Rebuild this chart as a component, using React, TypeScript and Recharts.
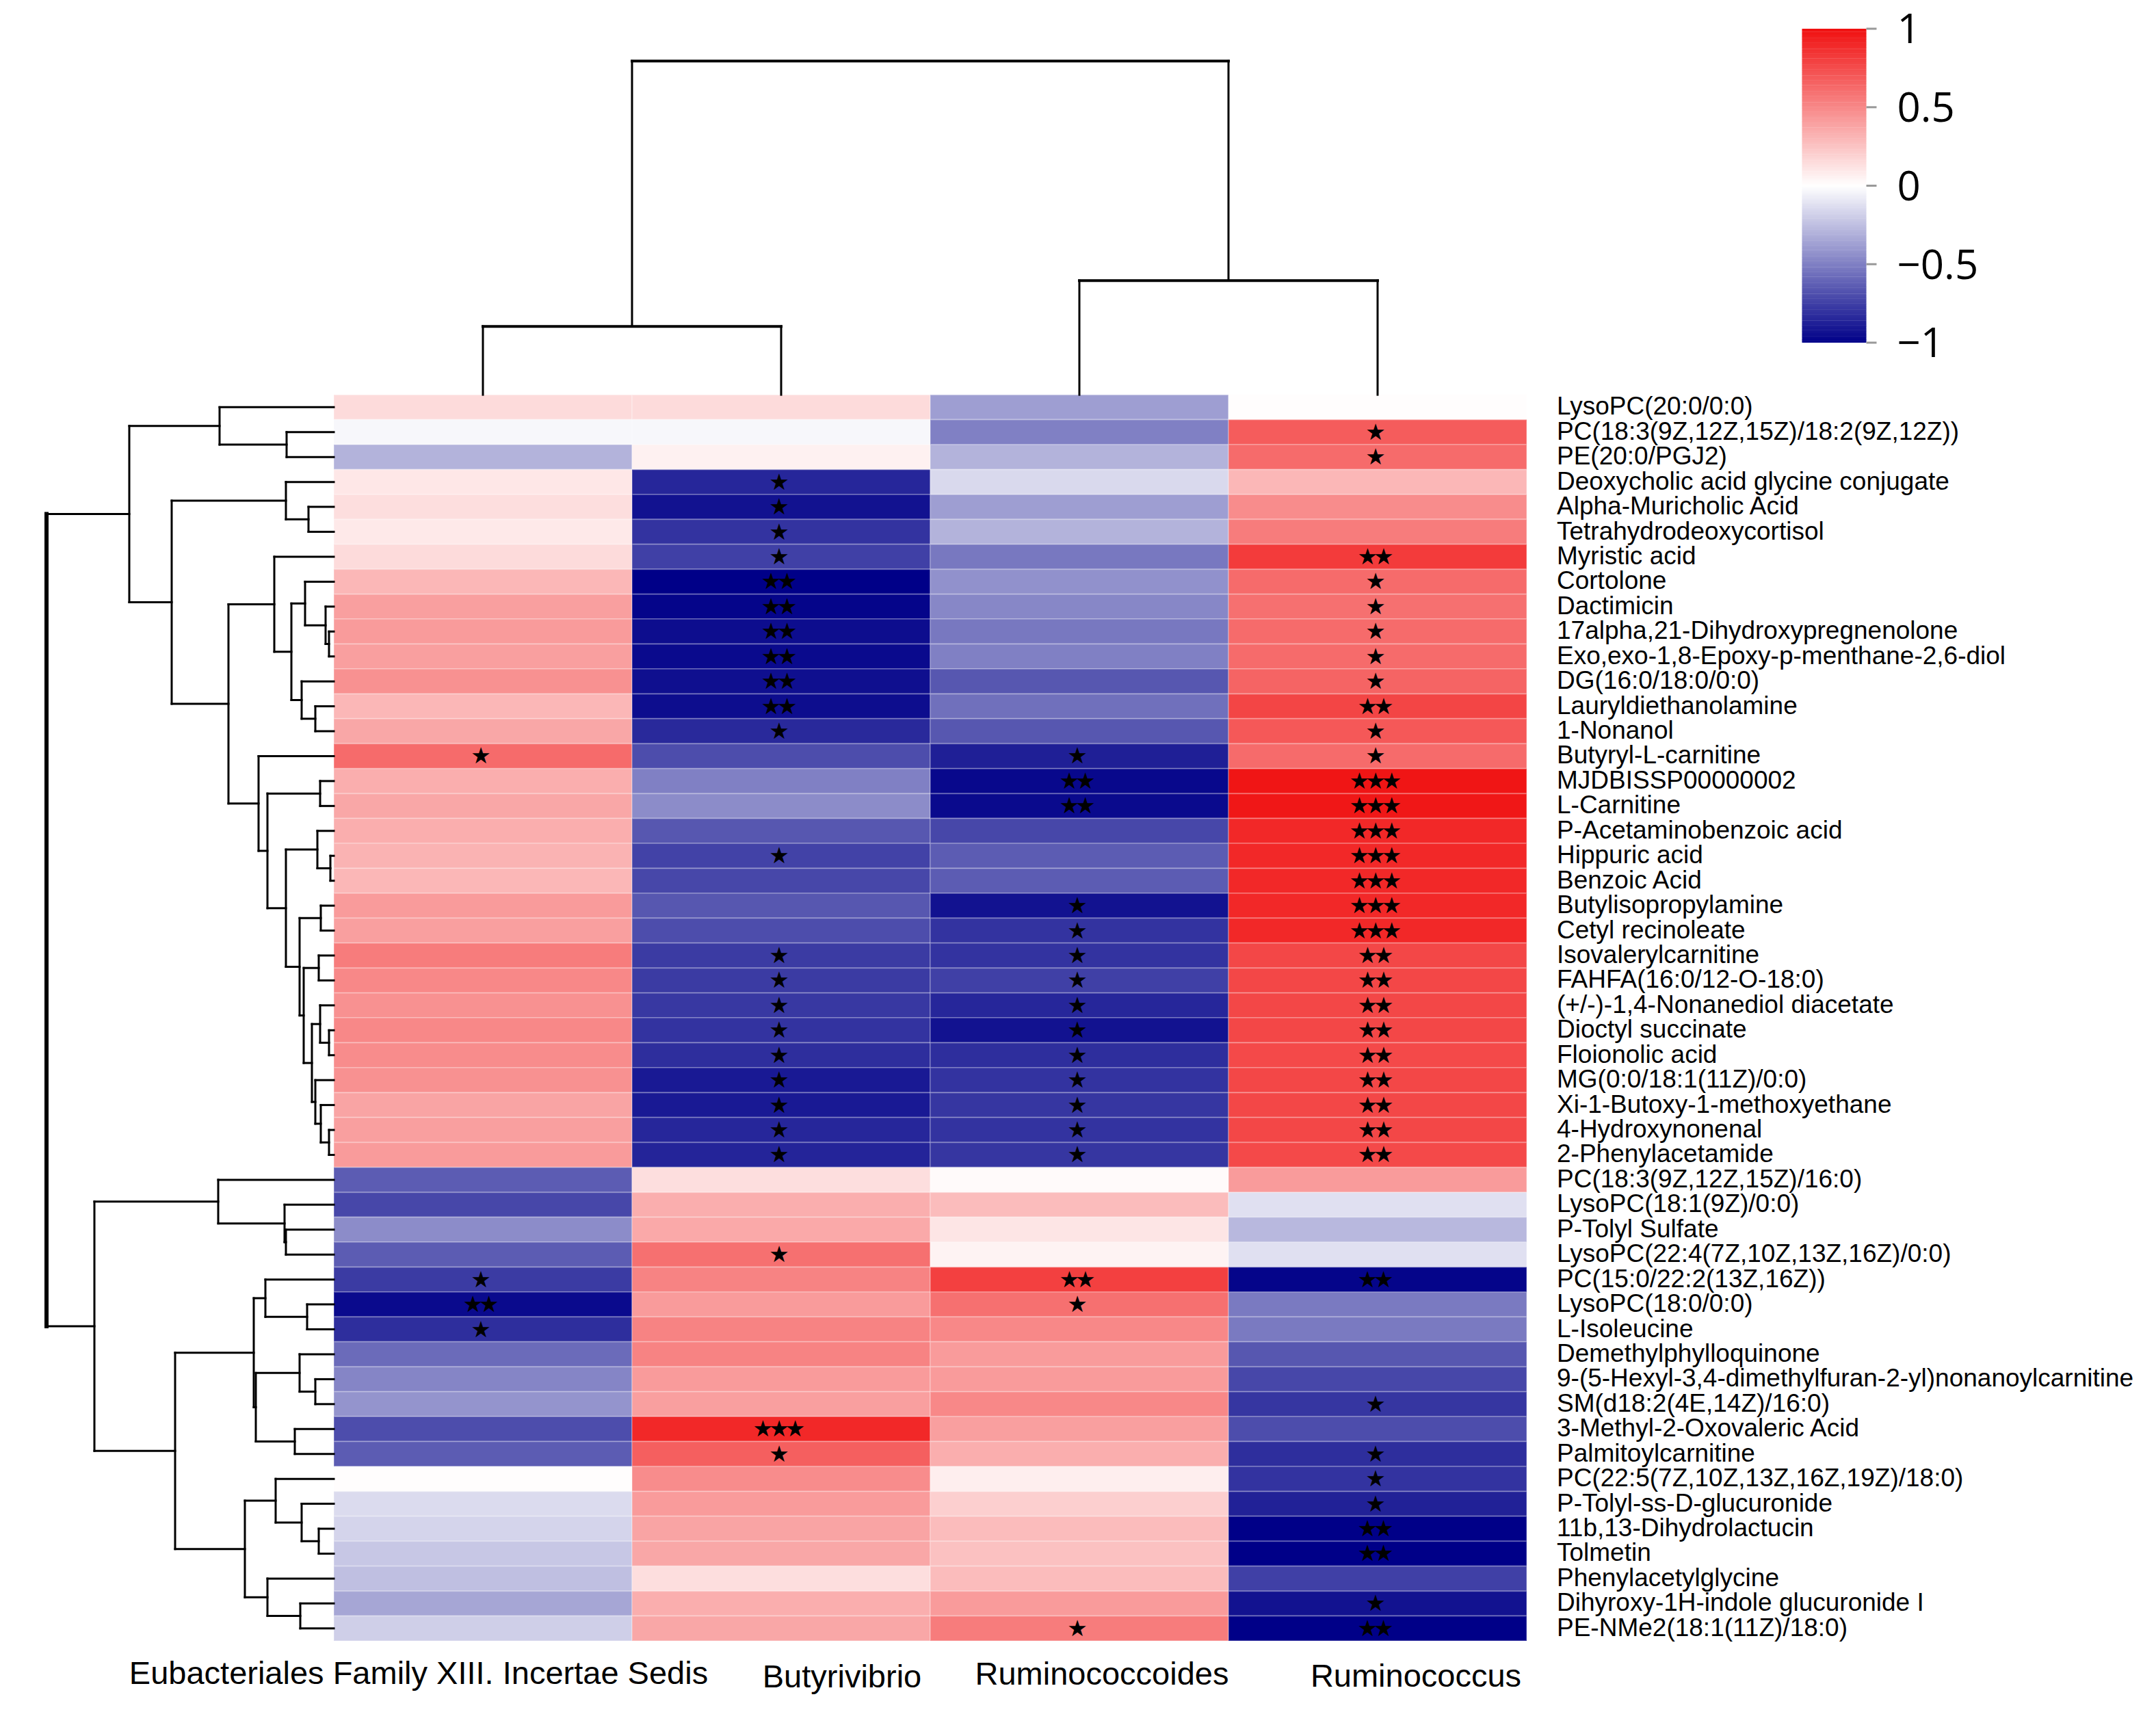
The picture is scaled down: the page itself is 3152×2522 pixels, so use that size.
import React from 'react';
import { ComposedChart, XAxis, YAxis, ReferenceArea, ReferenceLine, Scatter } from 'recharts';

// ---------------- data ----------------
const genera = ['Eubacteriales Family XIII. Incertae Sedis', 'Butyrivibrio', 'Ruminococcoides', 'Ruminococcus'];

const metabolites = [
  'LysoPC(20:0/0:0)', 'PC(18:3(9Z,12Z,15Z)/18:2(9Z,12Z))', 'PE(20:0/PGJ2)', 'Deoxycholic acid glycine conjugate',
  'Alpha-Muricholic Acid', 'Tetrahydrodeoxycortisol', 'Myristic acid', 'Cortolone', 'Dactimicin',
  '17alpha,21-Dihydroxypregnenolone', 'Exo,exo-1,8-Epoxy-p-menthane-2,6-diol', 'DG(16:0/18:0/0:0)',
  'Lauryldiethanolamine', '1-Nonanol', 'Butyryl-L-carnitine', 'MJDBISSP00000002', 'L-Carnitine',
  'P-Acetaminobenzoic acid', 'Hippuric acid', 'Benzoic Acid', 'Butylisopropylamine', 'Cetyl recinoleate',
  'Isovalerylcarnitine', 'FAHFA(16:0/12-O-18:0)', '(+/-)-1,4-Nonanediol diacetate', 'Dioctyl succinate',
  'Floionolic acid', 'MG(0:0/18:1(11Z)/0:0)', 'Xi-1-Butoxy-1-methoxyethane', '4-Hydroxynonenal',
  '2-Phenylacetamide', 'PC(18:3(9Z,12Z,15Z)/16:0)', 'LysoPC(18:1(9Z)/0:0)', 'P-Tolyl Sulfate',
  'LysoPC(22:4(7Z,10Z,13Z,16Z)/0:0)', 'PC(15:0/22:2(13Z,16Z))', 'LysoPC(18:0/0:0)', 'L-Isoleucine',
  'Demethylphylloquinone', '9-(5-Hexyl-3,4-dimethylfuran-2-yl)nonanoylcarnitine', 'SM(d18:2(4E,14Z)/16:0)',
  '3-Methyl-2-Oxovaleric Acid', 'Palmitoylcarnitine', 'PC(22:5(7Z,10Z,13Z,16Z,19Z)/18:0)',
  'P-Tolyl-ss-D-glucuronide', '11b,13-Dihydrolactucin', 'Tolmetin', 'Phenylacetylglycine',
  'Dihyroxy-1H-indole glucuronide I', 'PE-NMe2(18:1(11Z)/18:0)',
];

const eubacterialesR = [
  0.15, -0.03, -0.30, 0.10, 0.14, 0.09, 0.15, 0.30, 0.40, 0.42,
  0.40, 0.46, 0.30, 0.37, 0.62, 0.34, 0.37, 0.34, 0.32, 0.30,
  0.42, 0.40, 0.55, 0.50, 0.46, 0.50, 0.48, 0.46, 0.38, 0.40,
  0.42, -0.64, -0.72, -0.45, -0.64, -0.77, -0.96, -0.82, -0.58, -0.48,
  -0.42, -0.70, -0.64, 0.01, -0.14, -0.17, -0.22, -0.25, -0.35, -0.19,
];
const butyrivibrioR = [
  0.15, -0.03, 0.06, -0.85, -0.93, -0.80, -0.75, -1.00, -0.98, -0.95,
  -0.96, -0.94, -0.95, -0.84, -0.70, -0.50, -0.45, -0.66, -0.74, -0.72,
  -0.66, -0.70, -0.77, -0.77, -0.78, -0.80, -0.82, -0.90, -0.90, -0.85,
  -0.86, 0.14, 0.34, 0.36, 0.60, 0.52, 0.42, 0.52, 0.52, 0.42,
  0.40, 0.90, 0.67, 0.48, 0.42, 0.38, 0.37, 0.14, 0.34, 0.37,
];
const ruminococcoidesR = [
  -0.38, -0.50, -0.30, -0.15, -0.38, -0.30, -0.53, -0.43, -0.47, -0.53,
  -0.50, -0.66, -0.56, -0.66, -0.88, -0.97, -0.96, -0.72, -0.64, -0.64,
  -0.93, -0.80, -0.80, -0.75, -0.85, -0.93, -0.82, -0.80, -0.79, -0.80,
  -0.79, 0.02, 0.28, 0.11, 0.05, 0.80, 0.60, 0.50, 0.42, 0.42,
  0.50, 0.40, 0.34, 0.07, 0.20, 0.28, 0.26, 0.28, 0.42, 0.55,
];
const ruminococcusR = [
  0.01, 0.68, 0.62, 0.30, 0.48, 0.55, 0.82, 0.62, 0.60, 0.62,
  0.62, 0.65, 0.78, 0.70, 0.62, 0.98, 0.97, 0.90, 0.90, 0.90,
  0.90, 0.90, 0.77, 0.77, 0.77, 0.77, 0.76, 0.77, 0.77, 0.77,
  0.76, 0.42, -0.12, -0.28, -0.12, -0.98, -0.52, -0.52, -0.66, -0.72,
  -0.79, -0.70, -0.82, -0.80, -0.87, -1.00, -1.00, -0.75, -0.93, -1.00,
];

const eubacterialesSig = [
  '', '', '', '', '', '', '', '', '', '',
  '', '', '', '', '*', '', '', '', '', '',
  '', '', '', '', '', '', '', '', '', '',
  '', '', '', '', '', '*', '**', '*', '', '',
  '', '', '', '', '', '', '', '', '', '',
];
const butyrivibrioSig = [
  '', '', '', '*', '*', '*', '*', '**', '**', '**',
  '**', '**', '**', '*', '', '', '', '', '*', '',
  '', '', '*', '*', '*', '*', '*', '*', '*', '*',
  '*', '', '', '', '*', '', '', '', '', '',
  '', '***', '*', '', '', '', '', '', '', '',
];
const ruminococcoidesSig = [
  '', '', '', '', '', '', '', '', '', '',
  '', '', '', '', '*', '**', '**', '', '', '',
  '*', '*', '*', '*', '*', '*', '*', '*', '*', '*',
  '*', '', '', '', '', '**', '*', '', '', '',
  '', '', '', '', '', '', '', '', '', '*',
];
const ruminococcusSig = [
  '', '*', '*', '', '', '', '**', '*', '*', '*',
  '*', '*', '**', '*', '*', '***', '***', '***', '***', '***',
  '***', '***', '**', '**', '**', '**', '**', '**', '**', '**',
  '**', '', '', '', '', '**', '', '', '', '',
  '*', '', '*', '*', '*', '**', '**', '', '*', '**',
];

const colorbarTicks = [1, 0.5, 0, -0.5, -1];

// dendrograms: [mergeHeight, left, right]; leaves are row / column indices
type Tree = number | [number, Tree, Tree];
const rowTree: Tree = [4.20,
  [2.99,
    [1.67, 0, [0.69, 1, 2]],
    [2.37,
      [0.70, 3, [0.37, 4, 5]],
      [1.54,
        [0.87, 6, [0.62, [0.42, 7, [0.12, 8, [0.07, 9, 10]]], [0.47, 11, [0.27, 12, 13]]]],
        [1.10, 14,
          [0.97, [0.20, 15, 16],
            [0.70, [0.24, 17, [0.05, 18, 19]],
              [0.50, [0.19, 20, 21],
                [0.44, [0.22, 22, 23],
                  [0.32, [0.20, 24, [0.07, 25, 26]], [0.27, 27, [0.19, 28, [0.07, 29, 30]]]]]]]]],
      ],
    ],
  ],
  [3.50,
    [1.69, 31, [0.72, 32, [0.70, 33, 34]]],
    [2.32,
      [1.17, [1.00, 35, [0.39, 36, 37]], [1.14, [0.50, 38, [0.27, 39, 40]], [0.57, 41, 42]]],
      [1.30, [0.85, 43, [0.47, 44, [0.22, 45, 46]]], [0.97, 47, [0.49, 48, 49]]],
    ],
  ],
];
const colTree: Tree = [4.88, [1.0, 0, 1], [1.67, 2, 3]];

// ---------------- layout ----------------
const W = 3152;
const H = 2522;
const FONT = '"Liberation Sans", Arial, sans-serif';
const L = {
  marginLeft: 52,
  marginTop: 67,
  rightAxisW: 920,
  bottomAxisH: 123,
  xDomain: [-1, 4] as [number, number],
  yDomain: [-14, 50] as [number, number],
  rowDendroScale: 100 / 436,
  colDendroScale: 100 / 36.44,
  rowLabelDx: 44,
  rowLabelDy: 11,
  colLabelDx: [-94, 89, 33, 56],
  colLabelDy: [63, 68, 64, 67],
};

const seriesValues = [eubacterialesR, butyrivibrioR, ruminococcoidesR, ruminococcusR];
const seriesSig = [eubacterialesSig, butyrivibrioSig, ruminococcoidesSig, ruminococcusSig];

function heat(v: number): string {
  const t = Math.max(-1, Math.min(1, v));
  let r: number, g: number, b: number;
  if (t >= 0) {
    r = 255 + (240 - 255) * t;
    g = 255 + (16 - 255) * t;
    b = g;
  } else {
    const s = -t;
    r = 255 * (1 - s);
    g = r;
    b = 255 + (136 - 255) * s;
  }
  return `rgb(${Math.round(r)},${Math.round(g)},${Math.round(b)})`;
}

interface Seg { x1: number; y1: number; x2: number; y2: number; w: number }

function rowDendro(node: Tree, segs: Seg[], isRoot: boolean): { pos: number; c: number } {
  if (typeof node === 'number') return { pos: 0, c: node + 0.5 };
  const [h, a, b] = node;
  const p = -h * L.rowDendroScale;
  const A = rowDendro(a, segs, false);
  const B = rowDendro(b, segs, false);
  segs.push({ x1: p, y1: A.c, x2: p, y2: B.c, w: isRoot ? 6 : 3 });
  segs.push({ x1: p, y1: A.c, x2: A.pos, y2: A.c, w: 3 });
  segs.push({ x1: p, y1: B.c, x2: B.pos, y2: B.c, w: 3 });
  return { pos: p, c: (A.c + B.c) / 2 };
}

function colDendro(node: Tree, segs: Seg[]): { pos: number; c: number } {
  if (typeof node === 'number') return { pos: 0, c: node + 0.5 };
  const [h, a, b] = node;
  const p = -h * L.colDendroScale;
  const A = colDendro(a, segs);
  const B = colDendro(b, segs);
  segs.push({ x1: A.c, y1: p, x2: B.c, y2: p, w: 4 });
  segs.push({ x1: A.c, y1: p, x2: A.c, y2: A.pos, w: 3 });
  segs.push({ x1: B.c, y1: p, x2: B.c, y2: B.pos, w: 3 });
  return { pos: p, c: (A.c + B.c) / 2 };
}

const dendroSegs: Seg[] = [];
rowDendro(rowTree, dendroSegs, true);
colDendro(colTree, dendroSegs);

const cells = seriesValues.flatMap((vals, c) => vals.map((v, r) => ({ c, r, v })));
const starPoints = seriesSig.flatMap((sig, c) =>
  sig.map((s, r) => ({ x: c + 0.5, y: r + 0.5, s })).filter((d) => d.s !== ''),
);
const rowTicks = metabolites.map((_, i) => i + 0.5);
const colTicks = genera.map((_, i) => i + 0.5);

const RowTick = (props: any) => {
  const { x, y, payload } = props;
  const i = Math.round(payload.value - 0.5);
  return (
    <text x={x + L.rowLabelDx} y={y + L.rowLabelDy} textAnchor="start" fontFamily={FONT} fontSize={37} fill="#000">
      {metabolites[i]}
    </text>
  );
};

const ColTick = (props: any) => {
  const { x, y, payload } = props;
  const i = Math.round(payload.value - 0.5);
  return (
    <text x={x + L.colLabelDx[i]} y={y + L.colLabelDy[i]} textAnchor="middle" fontFamily={FONT} fontSize={47} fill="#000">
      {genera[i]}
    </text>
  );
};

// significance asterisks drawn with the filled-star glyph the figure shows
const StarMark = (props: any) => {
  const { cx, cy, payload } = props;
  const glyphs = String(payload.s).replace(/\*/g, '\u2605');
  return (
    <text
      x={cx - 6}
      y={cy + 11}
      textAnchor="middle"
      fontFamily='"DejaVu Sans", sans-serif'
      fontSize={33}
      letterSpacing={-6}
      fill="#000"
    >
      {glyphs}
    </text>
  );
};

const cbSlices = Array.from({ length: 200 }, (_, i) => -1 + (i * 2) / 200);

function Colorbar() {
  return (
    <ComposedChart width={552} height={560} margin={{ top: 42, right: 0, bottom: 59, left: 34.5 }}>
      <XAxis type="number" dataKey="x" domain={[0, 1]} allowDataOverflow hide />
      <YAxis
        type="number"
        dataKey="y"
        orientation="right"
        domain={[-1, 1]}
        allowDataOverflow
        ticks={colorbarTicks}
        interval={0}
        width={423.5}
        axisLine={false}
        tickLine={{ stroke: '#999', strokeWidth: 3 }}
        tickSize={15}
        tickMargin={30}
        tick={{ fontSize: 60, fontFamily: '"Open Sans", "Noto Sans", sans-serif', fill: '#000' }}
        tickFormatter={(v: number) => (v < 0 ? '\u2212' + Math.abs(v) : String(v))}
      />
      {cbSlices.map((lo, i) => (
        <ReferenceArea
          key={i}
          x1={0}
          x2={1}
          y1={lo}
          y2={Math.min(1, lo + 2 / 200 + 0.002)}
          fill={heat(lo + 1 / 200)}
          fillOpacity={1}
          stroke="none"
        />
      ))}
      <Scatter data={[{ x: 0.5, y: 0 }]} shape={() => <g />} isAnimationActive={false} />
    </ComposedChart>
  );
}

export default function App() {
  return (
    <div style={{ position: 'absolute', left: 0, top: 0, width: W, height: H, background: '#fff', fontFamily: FONT }}>
      <ComposedChart
        width={W}
        height={H}
        margin={{ top: L.marginTop, right: 0, bottom: 0, left: L.marginLeft }}
      >
        <XAxis
          type="number"
          dataKey="x"
          domain={L.xDomain}
          allowDataOverflow
          ticks={colTicks}
          interval={0}
          tick={<ColTick />}
          tickLine={false}
          axisLine={false}
          tickSize={0}
          tickMargin={0}
          height={L.bottomAxisH}
        />
        <YAxis
          type="number"
          dataKey="y"
          orientation="right"
          domain={L.yDomain}
          reversed
          allowDataOverflow
          ticks={rowTicks}
          interval={0}
          tick={<RowTick />}
          tickLine={false}
          axisLine={false}
          tickSize={0}
          tickMargin={0}
          width={L.rightAxisW}
        />
        {cells.map((d) => (
          <ReferenceArea
            key={`c-${d.c}-${d.r}`}
            x1={d.c}
            x2={d.c + 1}
            y1={d.r}
            y2={d.r + 1}
            fill={heat(d.v)}
            fillOpacity={1}
            stroke="#ffffff"
            strokeOpacity={0.22}
            strokeWidth={2}
          />
        ))}
        {dendroSegs.map((s, i) => (
          <ReferenceLine
            key={`d-${i}`}
            segment={[{ x: s.x1, y: s.y1 }, { x: s.x2, y: s.y2 }]}
            stroke="#000"
            strokeWidth={s.w}
            strokeLinecap="square"
          />
        ))}
        <Scatter data={starPoints} shape={<StarMark />} isAnimationActive={false} />
      </ComposedChart>
      <div style={{ position: 'absolute', left: 2600, top: 0 }}>
        <Colorbar />
      </div>
    </div>
  );
}
